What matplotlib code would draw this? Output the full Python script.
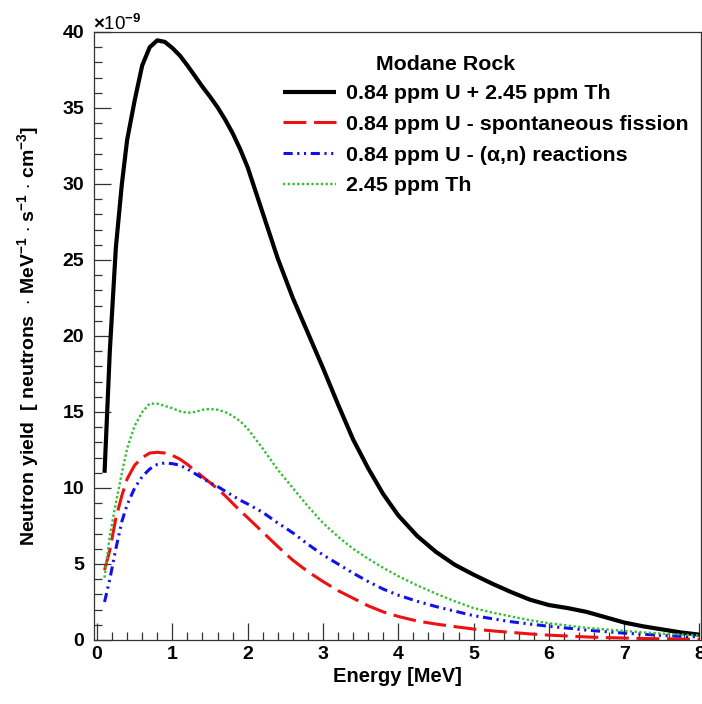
import matplotlib
matplotlib.use("Agg")
import matplotlib.pyplot as plt
from matplotlib.ticker import MultipleLocator

plt.rcParams['font.family'] = ['Liberation Sans', 'DejaVu Sans']
plt.rcParams['font.weight'] = 'bold'
plt.rcParams['mathtext.fontset'] = 'custom'
plt.rcParams['mathtext.rm'] = 'Liberation Sans:bold'
plt.rcParams['mathtext.it'] = 'Liberation Sans:italic:bold'
plt.rcParams['mathtext.default'] = 'rm'

# ---- data (units of 1e-9 neutrons / MeV / s / cm^3) ----
energy = [0.1, 0.17, 0.25, 0.33, 0.4, 0.5, 0.6, 0.7, 0.8, 0.9, 1.0, 1.1, 1.2, 1.3, 1.4,
          1.5, 1.6, 1.7, 1.8, 1.9, 2.0, 2.2, 2.4, 2.6, 2.8, 3.0, 3.2, 3.4, 3.6, 3.8, 4.0,
          4.25, 4.5, 4.75, 5.0, 5.25, 5.5, 5.75, 6.0, 6.25, 6.5, 6.75, 7.0, 7.25, 7.5,
          7.75, 8.0]

total = [11.0, 19.0, 25.8, 30.0, 32.9, 35.5, 37.8, 39.0, 39.45, 39.35, 38.95, 38.45,
         37.8, 37.1, 36.4, 35.75, 35.05, 34.25, 33.35, 32.3, 31.1, 28.1, 25.1, 22.5,
         20.2, 17.9, 15.5, 13.2, 11.3, 9.6, 8.2, 6.85, 5.8, 4.95, 4.3, 3.7, 3.15, 2.65,
         2.3, 2.1, 1.85, 1.5, 1.15, 0.9, 0.7, 0.5, 0.35]

u_sf = [4.6, 5.9, 8.0, 9.5, 10.6, 11.5, 12.0, 12.3, 12.35, 12.3, 12.15, 11.9, 11.55,
        11.15, 10.75, 10.35, 9.95, 9.5, 9.0, 8.5, 8.05, 7.1, 6.15, 5.25, 4.5, 3.85, 3.25,
        2.75, 2.25, 1.85, 1.55, 1.25, 1.05, 0.88, 0.72, 0.6, 0.5, 0.4, 0.32, 0.26, 0.2,
        0.16, 0.13, 0.1, 0.08, 0.06, 0.05]

u_an = [2.5, 4.0, 6.0, 7.8, 8.9, 10.0, 10.75, 11.25, 11.55, 11.65, 11.6, 11.5, 11.25,
        10.95, 10.65, 10.35, 10.1, 9.8, 9.5, 9.2, 8.95, 8.4, 7.7, 7.05, 6.3, 5.6, 5.0,
        4.4, 3.85, 3.35, 2.95, 2.55, 2.2, 1.9, 1.6, 1.4, 1.2, 1.05, 0.9, 0.78, 0.65,
        0.55, 0.45, 0.38, 0.3, 0.25, 0.2]

th = [4.1, 6.9, 9.0, 11.0, 12.6, 14.1, 15.0, 15.55, 15.55, 15.4, 15.25, 15.05, 14.95,
      15.0, 15.15, 15.2, 15.15, 15.0, 14.75, 14.4, 13.9, 12.6, 11.2, 10.0, 8.8, 7.7,
      6.8, 6.0, 5.35, 4.75, 4.2, 3.6, 3.05, 2.55, 2.1, 1.8, 1.55, 1.3, 1.1, 0.95, 0.8,
      0.7, 0.6, 0.5, 0.42, 0.36, 0.3]

labels = ["0.84 ppm U + 2.45 ppm Th",
          "0.84 ppm U - spontaneous fission",
          "0.84 ppm U - (α,n) reactions",
          "2.45 ppm Th"]

W, H = 702, 704
fig = plt.figure(figsize=(W / 100, H / 100), dpi=100)
ax = fig.add_axes([94 / W, (H - 640) / H, 607 / W, 608 / H])

ax.plot(energy, total, color='black', lw=3.0, label=labels[0], solid_capstyle='butt')
ax.plot(energy, u_sf, color='#ee1111', lw=2.2, dashes=(7.5, 2.5), label=labels[1])
ax.plot(energy, u_an, color='#1111ee', lw=2.2,
        dashes=(3, 1.5, 0.7, 1.5, 0.7, 1.5), label=labels[2])
ax.plot(energy, th, color='#33c033', lw=1.7, dashes=(1, 1), label=labels[3])

ax.set_xlim(-0.04, 8.02)
ax.set_ylim(0, 40)
ax.xaxis.set_major_locator(MultipleLocator(1))
ax.xaxis.set_minor_locator(MultipleLocator(0.2))
ax.yaxis.set_major_locator(MultipleLocator(5))
ax.yaxis.set_minor_locator(MultipleLocator(1))
ax.tick_params(which='both', direction='in', colors='#333333', labelcolor='black',
               labelsize=14, width=0.9)
ax.tick_params(which='major', length=12)
ax.tick_params(which='minor', length=6)
ax.tick_params(axis='y', pad=7)
ax.tick_params(axis='x', pad=4)
for lab in ax.get_xticklabels() + ax.get_yticklabels():
    lab.set_fontweight('bold')
for sp in ax.spines.values():
    sp.set_color('#333333')
    sp.set_linewidth(0.9)

fig.text(397 / W, 1 - 676 / H, "Energy [MeV]", ha='center', va='center',
         fontsize=14.5, fontweight='bold')
fig.text(28 / W, 1 - 336 / H,
         r"Neutron yield  [ neutrons  $\cdot$ MeV$^{-1}$ $\cdot$ s$^{-1}$ $\cdot$ cm$^{-3}$]",
         ha='center', va='center', rotation=90, fontsize=14, fontweight='bold')
fig.text(93 / W, 1 - 30 / H, r"$\times$10$^{-9}$", ha='left', va='baseline',
         fontsize=13.5, fontweight='normal')

leg = ax.legend(loc='upper left', bbox_to_anchor=(283 / W, 1 - 84 / H),
                bbox_transform=fig.transFigure, frameon=False, fontsize=15.4,
                handlelength=2.5, handletextpad=0.45, labelspacing=0.55,
                borderpad=0, borderaxespad=0)
for t in leg.get_texts():
    t.set_fontweight('bold')
fig.text(376 / W, 1 - 65 / H, "Modane Rock", ha='left', va='center',
         fontsize=15.4, fontweight='bold')

fig.savefig("out.png", dpi=100)
